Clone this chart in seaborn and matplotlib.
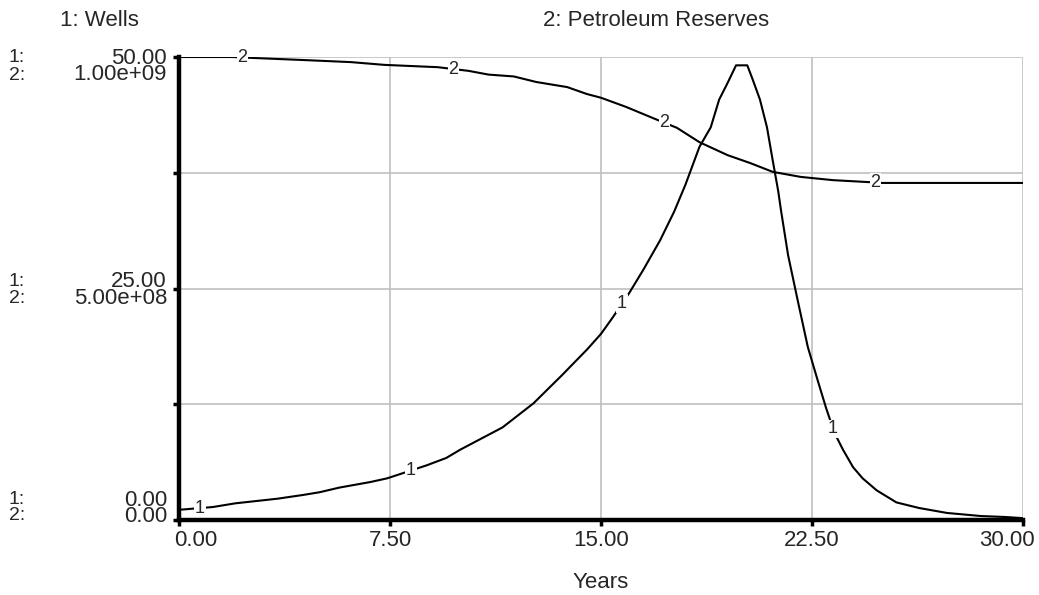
import numpy as np
import pandas as pd
import matplotlib
matplotlib.use("Agg")
import matplotlib.pyplot as plt
import seaborn as sns

# ---- data ----
wells_t = [0, 1.2, 2.0, 3.5, 4.4, 5.0, 5.7, 6.8, 7.4, 8.0, 8.8, 9.5, 10.0, 10.5,
           11.5, 12.6, 13.6, 14.5, 15.0, 15.4, 16.0, 16.5, 17.1, 17.6, 18.0, 18.5,
           18.9, 19.2, 19.5, 19.8, 20.2, 20.4, 20.65, 20.9, 21.1, 21.3, 21.4, 21.65,
           22.0, 22.35, 22.7, 23.0, 23.3, 23.6, 23.96, 24.3, 24.8, 25.5, 26.3, 27.3,
           28.5, 29.4, 30.0]
wells_v = [1.1, 1.4, 1.8, 2.3, 2.7, 3.0, 3.5, 4.1, 4.5, 5.1, 5.9, 6.7, 7.6, 8.4,
           10.0, 12.6, 15.6, 18.4, 20.1, 21.8, 24.5, 27.0, 30.2, 33.3, 36.2, 40.3,
           42.4, 45.4, 47.2, 49.1, 49.1, 47.5, 45.4, 42.4, 38.9, 35.5, 33.4, 28.6,
           23.6, 18.7, 15.1, 12.1, 9.4, 7.6, 5.7, 4.5, 3.2, 1.9, 1.3, 0.76,
           0.43, 0.32, 0.2]

res_t = [0, 1.9, 2.6, 4.4, 6.1, 7.3, 9.2, 10.3, 11.0, 11.9, 12.7, 13.8, 14.5,
         15.0, 15.9, 16.85, 17.7, 18.5, 19.5, 20.3, 21.1, 22.1, 23.25, 24.45, 25.0, 30.0]
res_v = [1.0e9, 1.0e9, 0.998e9, 0.9935e9, 0.989e9, 0.983e9, 0.978e9, 0.970e9, 0.962e9,
         0.958e9, 0.946e9, 0.935e9, 0.920e9, 0.912e9, 0.892e9, 0.868e9, 0.847e9,
         0.816e9, 0.788e9, 0.771e9, 0.752e9, 0.741e9, 0.734e9, 0.730e9, 0.728e9, 0.728e9]

x_ticks = [0, 7.5, 15, 22.5, 30]
x_labels = ["0.00", "7.50", "15.00", "22.50", "30.00"]
y1_ticks = [0, 25, 50]
y1_labels = ["0.00", "25.00", "50.00"]
y2_labels = ["0.00", "5.00e+08", "1.00e+09"]
label1_t = [0.75, 8.25, 15.75, 23.25]
label2_t = [2.25, 9.75, 17.25, 24.75]

wells = pd.DataFrame({"Years": wells_t, "Wells": wells_v})
reserves = pd.DataFrame({"Years": res_t, "Reserves": res_v})

# ---- style ----
sns.set_style("white")
plt.rcParams["font.family"] = ["Liberation Sans", "DejaVu Sans"]

fig = plt.figure(figsize=(10.39, 5.95), dpi=100)
ax = fig.add_axes([179 / 1039, 75 / 595, 844 / 1039, 463 / 595])
ax2 = ax.twinx()

grid_c = "#c0c0c0"
ax.set_xlim(0, 30)
ax.set_ylim(0, 50)
ax2.set_ylim(0, 1e9)

for gx in [7.5, 15, 22.5, 30]:
    ax.axvline(gx, color=grid_c, lw=1.2, zorder=0)
for gy in [12.5, 25, 37.5, 50]:
    ax.axhline(gy, color=grid_c, lw=1.2, zorder=0)

sns.lineplot(data=wells, x="Years", y="Wells", ax=ax, color="black", lw=1.5, zorder=3)
sns.lineplot(data=reserves, x="Years", y="Reserves", ax=ax2, color="black", lw=1.5, zorder=3)

# inline series numbers
bb = dict(facecolor="white", edgecolor="none", pad=0.5)
for t in label1_t:
    ax.text(t, np.interp(t, wells_t, wells_v), "1", fontsize=13, ha="center",
            va="center", bbox=bb, zorder=5)
for t in label2_t:
    ax2.text(t, np.interp(t, res_t, res_v), "2", fontsize=13, ha="center",
             va="center", bbox=bb, zorder=5)

# spines
for a in (ax, ax2):
    for s in ["top", "right"]:
        a.spines[s].set_visible(False)
ax2.spines["left"].set_visible(False)
ax2.spines["bottom"].set_visible(False)
for s in ["left", "bottom"]:
    ax.spines[s].set_linewidth(3.2)
    ax.spines[s].set_color("black")
    ax.spines[s].set_zorder(6)
ax2.set_yticks([])
ax2.set_ylabel("")

# ticks
ax.set_yticks([0, 12.5, 25, 37.5, 50])
ax.set_yticklabels([])
ax.tick_params(axis="y", direction="out", length=4, width=2.5, color="black", left=True)
ax.set_xticks(x_ticks)
ax.set_xticklabels([])
ax.tick_params(axis="x", direction="out", length=4, width=2.5, color="black", bottom=True)
ax.set_xlabel("")
ax.set_ylabel("")

# x tick labels
for i, (xv, lab) in enumerate(zip(x_ticks, x_labels)):
    ha = "center"
    dx = 0
    if i == 0:
        ha, dx = "left", -5
    elif i == len(x_ticks) - 1:
        ha, dx = "right", 12
    ax.annotate(lab, xy=(xv, 0), xycoords=("data", "axes fraction"),
                xytext=(dx, -21), textcoords="offset pixels", ha=ha, va="center",
                fontsize=16)

ax.annotate("Years", xy=(0.5, 0), xycoords="axes fraction", xytext=(0, -62),
            textcoords="offset pixels", ha="center", va="center", fontsize=16)

# y tick labels (two series): pixel offsets of the two rows from the tick
offs = {0: (20, 4), 25: (7, -10), 50: (-1, -18)}
for v, l1, l2 in zip(y1_ticks, y1_labels, y2_labels):
    o1, o2 = offs[v]
    ax.annotate(l1, xy=(0, v), xycoords=("axes fraction", "data"), xytext=(-12, o1),
                textcoords="offset pixels", ha="right", va="center", fontsize=16)
    ax.annotate(l2, xy=(0, v), xycoords=("axes fraction", "data"), xytext=(-12, o2),
                textcoords="offset pixels", ha="right", va="center", fontsize=16)
    ax.annotate("1:", xy=(0, v), xycoords=("axes fraction", "data"), xytext=(-170, o1),
                textcoords="offset pixels", ha="left", va="center", fontsize=14)
    ax.annotate("2:", xy=(0, v), xycoords=("axes fraction", "data"), xytext=(-170, o2),
                textcoords="offset pixels", ha="left", va="center", fontsize=14)

# series titles
fig.text(60 / 1039, 1 - 21 / 595, "1: Wells", fontsize=16, ha="left", va="center")
fig.text(543 / 1039, 1 - 21 / 595, "2: Petroleum Reserves", fontsize=16, ha="left", va="center")

fig.savefig("out.png", dpi=100)
